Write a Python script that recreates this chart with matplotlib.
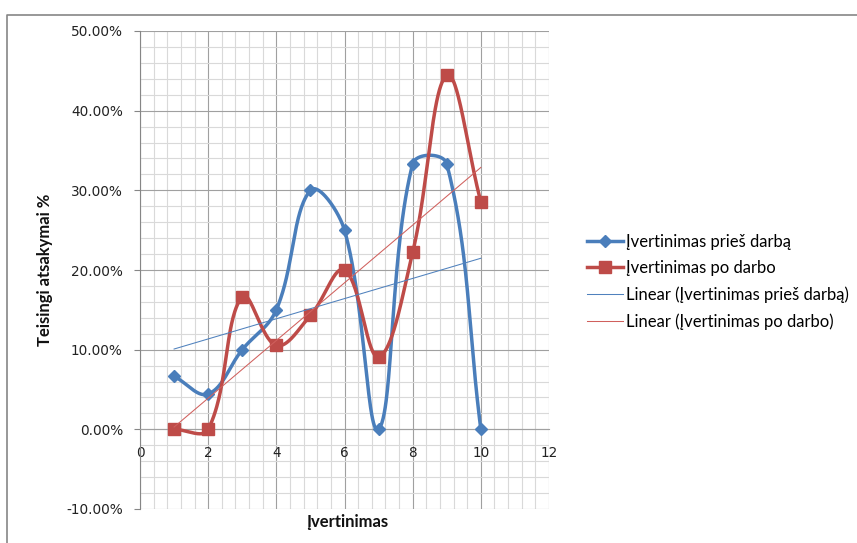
import numpy as np
import matplotlib
matplotlib.use("Agg")
import matplotlib.pyplot as plt
from matplotlib.lines import Line2D
from matplotlib.ticker import MultipleLocator, FuncFormatter

# Share of correct answers per grade (fractions), before and after the work
grades = [1, 2, 3, 4, 5, 6, 7, 8, 9, 10]
before = [0.0667, 0.0444, 0.1000, 0.1500, 0.3000, 0.2500, 0.0000, 0.3333, 0.3333, 0.0000]
after = [0.0000, 0.0000, 0.1667, 0.1053, 0.1429, 0.2000, 0.0909, 0.2222, 0.4444, 0.2857]

label_before = "Įvertinimas prieš darbą"
label_after = "Įvertinimas po darbo"
label_trend_before = "Linear (Įvertinimas prieš darbą)"
label_trend_after = "Linear (Įvertinimas po darbo)"
x_title = "Įvertinimas"
y_title = "Teisingi atsakymai %"

BLUE = "#4A7EBB"
RED = "#BE4B48"
W, H = 857, 543

fig = plt.figure(figsize=(W / 100, H / 100), dpi=100)
ax = fig.add_axes([140 / W, 1 - 509 / H, 409 / W, 478 / H])
ax.set_xlim(0, 12)
ax.set_ylim(-0.10, 0.50)


def smooth(ax, xs, ys, n=60, k=0.38):
    """Bezier smoothing computed in screen space, like spreadsheet smoothed lines."""
    pts = ax.transData.transform(np.column_stack([xs, ys]))
    m = len(pts)
    t = np.linspace(0, 1, n)[:, None]
    out = []
    for i in range(m - 1):
        p0 = pts[i - 1] if i > 0 else pts[i]
        p1, p2 = pts[i], pts[i + 1]
        p3 = pts[i + 2] if i + 2 < m else pts[i + 1]
        d01 = np.hypot(*(p1 - p0))
        d12 = np.hypot(*(p2 - p1))
        d23 = np.hypot(*(p3 - p2))
        c1 = p1 + (p2 - p0) * (d12 / (d01 + d12)) * k if d01 + d12 > 0 else p1
        c2 = p2 - (p3 - p1) * (d12 / (d12 + d23)) * k if d12 + d23 > 0 else p2
        seg = ((1 - t) ** 3) * p1 + 3 * ((1 - t) ** 2) * t * c1 + 3 * (1 - t) * t ** 2 * c2 + t ** 3 * p2
        out.append(seg if i == 0 else seg[1:])
    data = ax.transData.inverted().transform(np.vstack(out))
    return data[:, 0], data[:, 1]


# grid
ax.xaxis.set_major_locator(MultipleLocator(2))
ax.xaxis.set_minor_locator(MultipleLocator(0.4))
ax.yaxis.set_major_locator(MultipleLocator(0.1))
ax.yaxis.set_minor_locator(MultipleLocator(0.02))
ax.grid(which="major", color="#A0A0A0", lw=0.8)
ax.grid(which="minor", color="#D9D9D9", lw=0.8)
ax.set_axisbelow(True)

ax.yaxis.set_major_formatter(FuncFormatter(lambda v, p: f"{v * 100:.2f}%"))
ax.spines["top"].set_visible(False)
ax.spines["right"].set_visible(False)
ax.spines["bottom"].set_position(("data", 0))
ax.spines["bottom"].set_color("#A0A0A0")
ax.spines["left"].set_color("#868686")
ax.tick_params(axis="y", which="major", direction="out", length=4.3, color="#868686",
               labelsize=9.8, labelcolor="#222222", pad=8)
ax.tick_params(axis="x", which="major", length=0, labelsize=9.8, labelcolor="#222222", pad=12)
ax.tick_params(which="minor", length=0)
for lab in ax.get_xticklabels() + ax.get_yticklabels():
    lab.set_family("DejaVu Sans")

# smoothed series
xb, yb = smooth(ax, grades, before)
xa, ya = smooth(ax, grades, after)
ax.plot(xb, yb, color=BLUE, lw=2.5, solid_capstyle="round", zorder=3)
ax.plot(grades, before, ls="none", marker="D", ms=6.5, color=BLUE, zorder=4)
ax.plot(xa, ya, color=RED, lw=2.5, solid_capstyle="round", zorder=3)
ax.plot(grades, after, ls="none", marker="s", ms=8.5, color=RED, zorder=4)

# linear trend lines
g = np.array(grades, dtype=float)
kb, bb = np.polyfit(g, before, 1)
ka, ba = np.polyfit(g, after, 1)
ax.plot([g[0], g[-1]], [kb * g[0] + bb, kb * g[-1] + bb], color="#4F81BD", lw=0.75, zorder=5)
ax.plot([g[0], g[-1]], [ka * g[0] + ba, ka * g[-1] + ba], color="#D0605D", lw=0.75, zorder=5)

# axis titles
fig.text(45 / W, 1 - 270 / H, y_title, rotation=90, ha="center", va="center",
         fontsize=12, fontweight="bold", family="Lato", color="#111111")
fig.text(347 / W, 1 - 522 / H, x_title, ha="center", va="center",
         fontsize=12, fontweight="bold", family="Lato", color="#111111")

# legend
handles = [
    Line2D([], [], color=BLUE, lw=2.5, marker="D", ms=6.5),
    Line2D([], [], color=RED, lw=2.5, marker="s", ms=8.5),
    Line2D([], [], color="#4F81BD", lw=0.75),
    Line2D([], [], color="#D0605D", lw=0.75),
]
labels = [label_before, label_after, label_trend_before, label_trend_after]
fig.legend(handles, labels, loc="center left", bbox_to_anchor=(587 / W, 1 - 282 / H),
           frameon=False, prop={"family": "Lato", "size": 12}, handlelength=2.15,
           handletextpad=0.18, labelspacing=0.62, borderpad=0, borderaxespad=0)

# chart area border (left and top edges)
fig.add_artist(Line2D([7 / W, 7 / W, 1.0], [0.0, 1 - 15 / H, 1 - 15 / H],
                      transform=fig.transFigure, color="#868686", lw=1.2))

fig.savefig("out.png", dpi=100)
